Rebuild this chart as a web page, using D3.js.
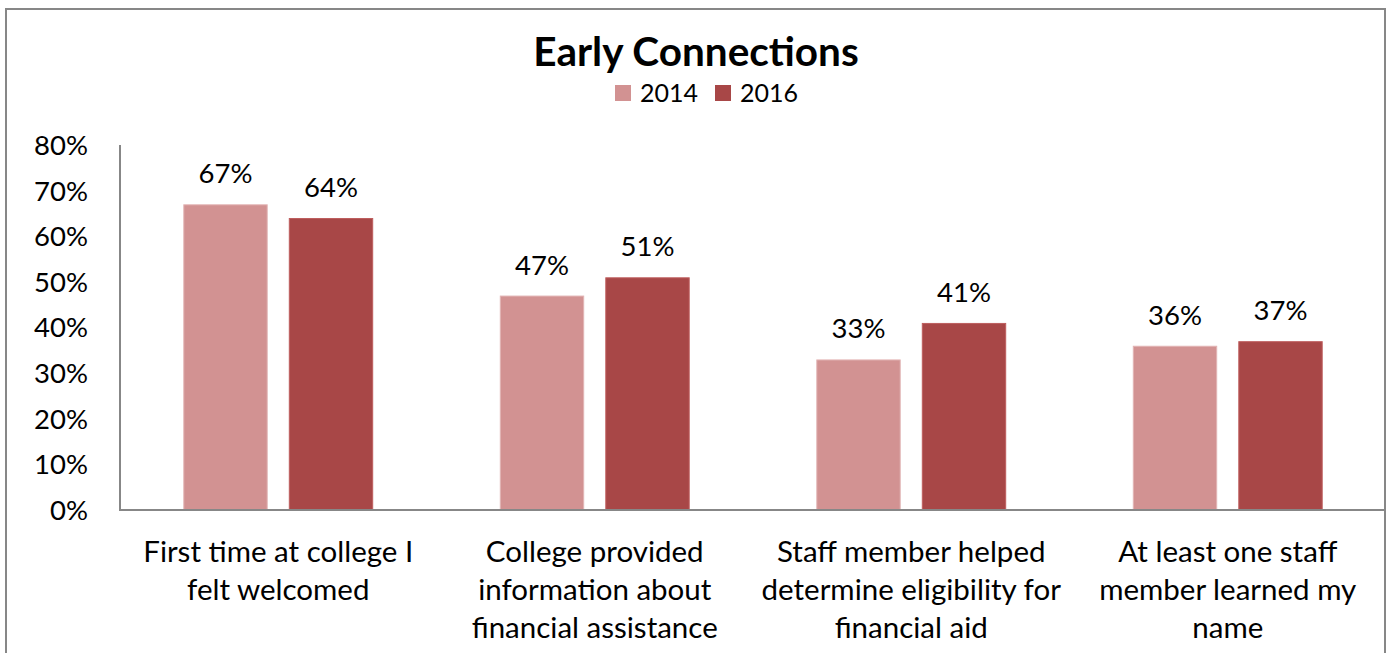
<!DOCTYPE html>
<html>
<head>
<meta charset="utf-8">
<script src="https://cdn.jsdelivr.net/npm/d3@7"></script>
<style>
  html, body { margin: 0; padding: 0; background: #fff; }
  svg { display: block; font-family: Lato, "Open Sans", sans-serif; }
</style>
</head>
<body>
<svg id="chart" width="1392" height="653"></svg>
<script>
// Survey items (each split over display lines)
const categories = [
  ["First time at college I", "felt welcomed"],
  ["College provided", "information about", "financial assistance"],
  ["Staff member helped", "determine eligibility for", "financial aid"],
  ["At least one staff", "member learned my", "name"]
];
const seriesNames = ["2014", "2016"];
const values2014 = [67, 47, 33, 36];
const values2016 = [64, 51, 41, 37];
const yTicks = [0, 10, 20, 30, 40, 50, 60, 70, 80];

const colors = { "2014": "#D29292", "2016": "#A84747" };
const edges  = { "2014": "#E2B4B4", "2016": "#BE5E5E" };
const axisGray = "#878787";

const svg = d3.select("#chart");

// Outer frame
svg.append("rect")
  .attr("x", 6).attr("y", 9)
  .attr("width", 1379).attr("height", 700)
  .attr("fill", "#fff")
  .attr("stroke", axisGray).attr("stroke-width", 2);

// Plot geometry
const plot = { left: 120, right: 1386, top: 145, bottom: 510 };

const x0 = d3.scaleBand()
  .domain(d3.range(categories.length))
  .range([plot.left, plot.right])
  .paddingInner(0).paddingOuter(0);

// Excel-style gap width 150%, overlap -25%
const barW = x0.bandwidth() / 3.75;
const x1 = d3.scaleBand()
  .domain(seriesNames)
  .range([barW * 0.75, x0.bandwidth() - barW * 0.75])
  .paddingInner(0.2).paddingOuter(0);

const y = d3.scaleLinear().domain([0, 80]).range([plot.bottom, plot.top]);

// Y tick labels
svg.append("g")
  .selectAll("text")
  .data(yTicks)
  .join("text")
  .attr("x", 88)
  .attr("y", d => y(d))
  .attr("dy", "0.36em")
  .attr("text-anchor", "end")
  .attr("font-size", 27.5)
  .attr("fill", "#000")
  .text(d => d + "%");

// Bars
const rows = categories.map((c, i) => ({ i, vals: [
  { s: "2014", v: values2014[i] },
  { s: "2016", v: values2016[i] }
]}));

const groups = svg.append("g")
  .selectAll("g")
  .data(rows)
  .join("g")
  .attr("transform", d => `translate(${x0(d.i)},0)`);

groups.selectAll("rect")
  .data(d => d.vals)
  .join("rect")
  .attr("x", d => x1(d.s) + 0.5)
  .attr("y", d => y(d.v) + 0.5)
  .attr("width", x1.bandwidth() - 1)
  .attr("height", d => y(0) - y(d.v) - 0.5)
  .attr("fill", d => colors[d.s])
  .attr("stroke", d => edges[d.s])
  .attr("stroke-width", 1);

// Value labels
groups.selectAll("text")
  .data(d => d.vals)
  .join("text")
  .attr("x", d => x1(d.s) + x1.bandwidth() / 2)
  .attr("y", d => y(d.v) - 21)
  .attr("text-anchor", "middle")
  .attr("font-size", 27.5)
  .attr("fill", "#000")
  .text(d => d.v + "%");

// Axis lines
svg.append("line")
  .attr("x1", plot.left).attr("x2", plot.left)
  .attr("y1", plot.top).attr("y2", plot.bottom)
  .attr("stroke", axisGray).attr("stroke-width", 2);
svg.append("line")
  .attr("x1", plot.left - 1).attr("x2", plot.right)
  .attr("y1", plot.bottom).attr("y2", plot.bottom)
  .attr("stroke", axisGray).attr("stroke-width", 2);

// Category labels
const catText = svg.append("g")
  .selectAll("text")
  .data(categories)
  .join("text")
  .attr("text-anchor", "middle")
  .attr("font-size", 29.5)
  .attr("fill", "#000");
catText.selectAll("tspan")
  .data((lines, i) => lines.map(l => ({ l, i })))
  .join("tspan")
  .attr("x", d => x0(d.i) + x0.bandwidth() / 2)
  .attr("y", (d, k) => 561.5 + k * 38.4)
  .text(d => d.l);

// Title
svg.append("text")
  .attr("x", 696).attr("y", 66)
  .attr("text-anchor", "middle")
  .attr("font-size", 40.5)
  .attr("font-weight", "bold")
  .attr("fill", "#000")
  .text("Early Connections");

// Legend
const legendX = [615, 715];
const legend = svg.append("g")
  .selectAll("g")
  .data(seriesNames)
  .join("g")
  .attr("transform", (d, i) => `translate(${legendX[i]},85)`);
legend.append("rect")
  .attr("width", 16).attr("height", 16)
  .attr("fill", d => colors[d]);
legend.append("text")
  .attr("x", 25).attr("y", 16.5)
  .attr("font-size", 25)
  .attr("fill", "#000")
  .text(d => d);
</script>
</body>
</html>
